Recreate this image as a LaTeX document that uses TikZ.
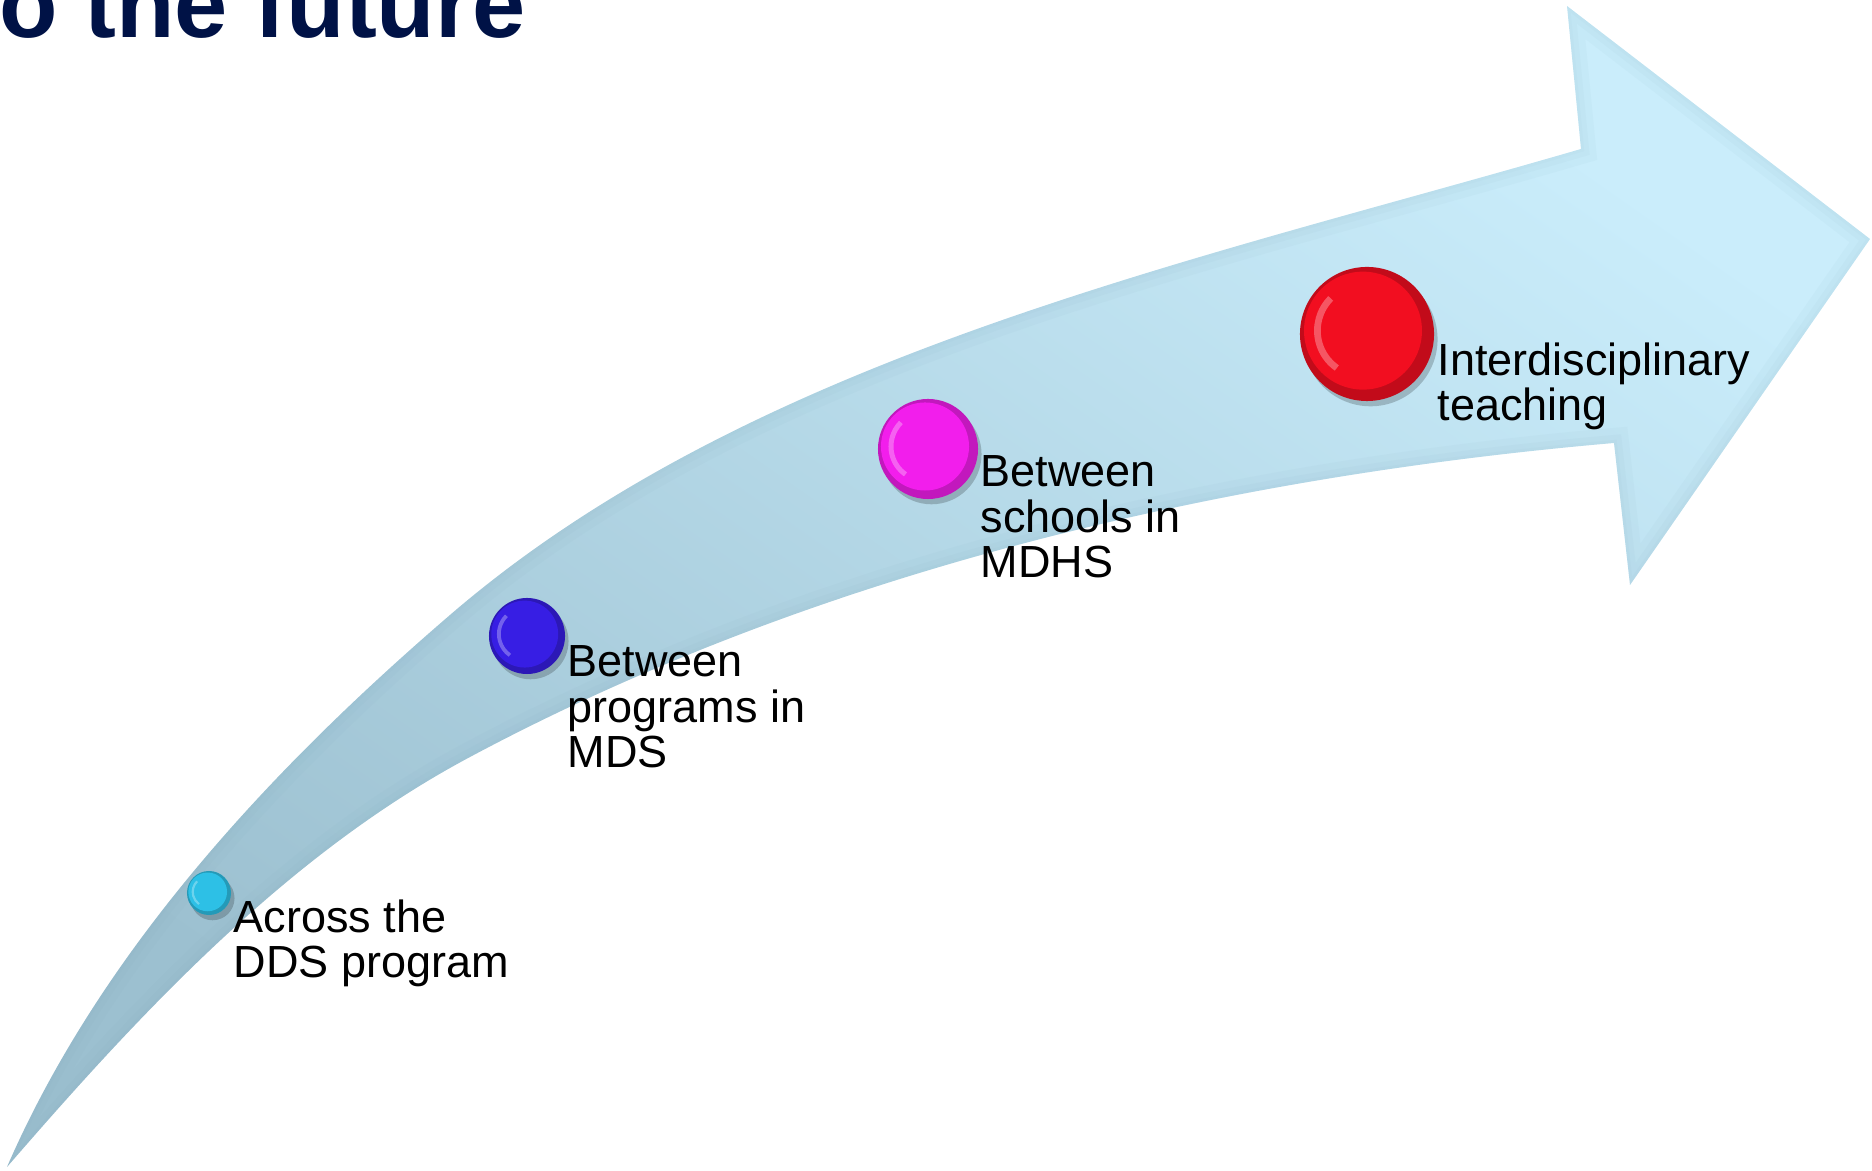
\documentclass[tikz,border=0pt]{standalone}
\usepackage{fontspec}
\setmainfont{Liberation Sans}
\usetikzlibrary{shadows}
\definecolor{arrowlight}{RGB}{202,237,251}
\definecolor{arrowdark}{RGB}{156,192,208}
\definecolor{arrowrim}{RGB}{120,160,180}
\definecolor{titlenavy}{RGB}{0,18,70}
\definecolor{btncyan}{RGB}{45,192,230}
\definecolor{btnblue}{RGB}{55,30,228}
\definecolor{btnmagenta}{RGB}{242,30,236}
\definecolor{btnred}{RGB}{242,14,32}
\newcommand{\arrowoutline}{%
  (7,1167) .. controls (101,951) and (271,769) .. (450,615)
  .. controls (753,354) and (1197,261) .. (1581,149)
  -- (1567,6) -- (1870,239) -- (1630,585) -- (1614,443)
  .. controls (1221,477) and (818,571) .. (470,757)
  .. controls (288,854) and (142,1011) .. (7,1167) -- cycle}
\tikzset{
  button/.style n args={2}{circle, inner sep=0pt, minimum size=#1,
    fill=#2!80!black,
    drop shadow={shadow xshift=1pt, shadow yshift=-1.5pt, opacity=0.2, fill=black},
    path picture={
      \fill[#2] ([xshift={-0.03*#1}, yshift={0.025*#1}]path picture bounding box.center) circle[radius={0.44*#1}];
      \draw[white, opacity=0.3, line width={0.05*#1}]
        ([xshift={-0.03*#1}, yshift={0.025*#1}]path picture bounding box.center)
        ++(135:{0.34*#1}) arc[start angle=135, end angle=235, radius={0.34*#1}];
    }},
  steptext/.style={anchor=north west, inner sep=0pt, align=left,
    font=\fontsize{12.8}{12.9}\selectfont, text=black},
  titletext/.style={anchor=base west, inner sep=0pt,
    font=\fontsize{27.2}{29}\selectfont\bfseries, text=titlenavy},
  arrowbody/.style={top color=arrowlight, bottom color=arrowdark, shading angle=-35}
}
\begin{document}
\begin{tikzpicture}[x=0.01cm, y=-0.01cm]
\useasboundingbox (0,0) rectangle (1872,1171);
\clip (0,0) rectangle (1872,1171);

% title (cut at the top)
\node[titletext] (title) at (-1,38) {o the future};

% curved arrow with a soft bevel
\shade[arrowbody] \arrowoutline;
\begin{scope}
  \clip \arrowoutline;
  \draw[arrowrim, opacity=0.05, line width=0.3cm, line join=miter] \arrowoutline;
  \draw[arrowrim, opacity=0.05, line width=0.16cm, line join=miter] \arrowoutline;
  \draw[arrowrim, opacity=0.04, line width=0.06cm, line join=miter] \arrowoutline;
\end{scope}

% buttons
\node[button={0.44cm}{btncyan}] (c1) at (209,893) {};
\node[button={0.76cm}{btnblue}] (c2) at (527,636) {};
\node[button={1.0cm}{btnmagenta}] (c3) at (928,449) {};
\node[button={1.34cm}{btnred}] (c4) at (1367,334) {};

% labels
\node[steptext] (t1) at (233,899) {Across the\\DDS program};
\node[steptext] (t2) at (567,645) {Between\\programs in\\MDS};
\node[steptext] (t3) at (980,455) {Between\\schools in\\MDHS};
\node[steptext] (t4) at (1437,342) {Interdisciplinary\\teaching};
\end{tikzpicture}
\end{document}
